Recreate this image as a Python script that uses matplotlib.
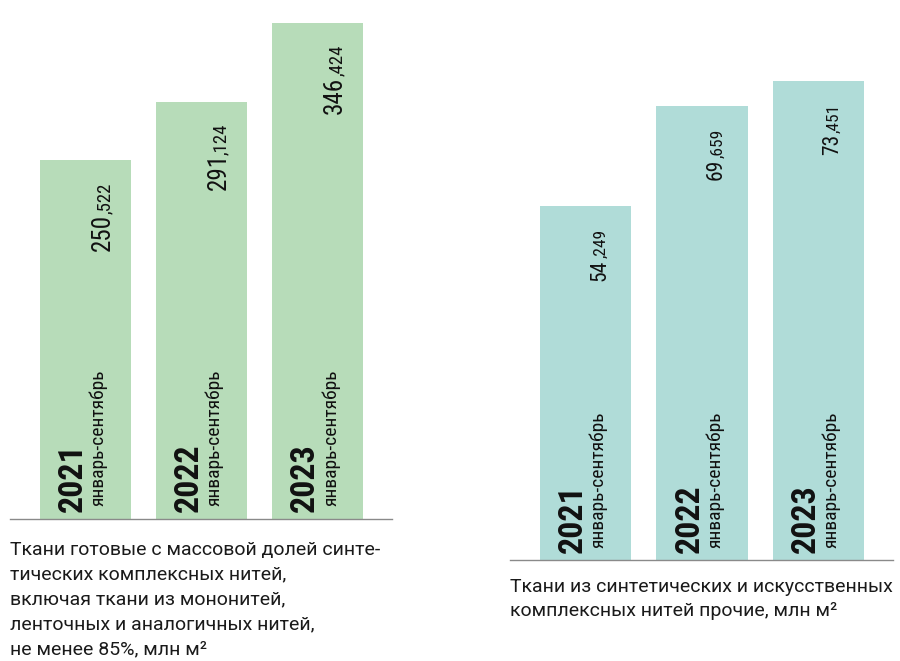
import matplotlib
matplotlib.use("Agg")
import matplotlib.pyplot as plt

narrow = ["Roboto Condensed", "DejaVu Sans"]
caption_font = ["Roboto", "DejaVu Sans"]

years = ["2021", "2022", "2023"]
period = "январь-сентябрь"
left_values = [250.522, 291.124, 346.424]
left_labels = [("250", ",522"), ("291", ",124"), ("346", ",424")]
right_values = [54.249, 69.659, 73.451]
right_labels = [("54", ",249"), ("69", ",659"), ("73", ",451")]
left_caption = ("Ткани готовые с массовой долей синте-\n"
                "тических комплексных нитей,\n"
                "включая ткани из мононитей,\n"
                "ленточных и аналогичных нитей,\n"
                "не менее 85%, млн м²")
right_caption = ("Ткани из синтетических и искусственных\n"
                 "комплексных нитей прочие, млн м²")

W, H = 900, 661
fig = plt.figure(figsize=(W / 100, H / 100), dpi=100)


def panel(x0, x1, base_y, vmax, color, values, labels, big, small, val_dx, val_dy,
          caption, cap_y, cap_ls):
    ax = fig.add_axes([x0 / W, (H - base_y) / H, (x1 - x0) / W, base_y / H])
    pos = range(len(values))
    ax.bar(pos, values, width=0.785, color=color)
    ax.set_ylim(0, vmax)
    ax.set_xlim(-0.65, 2.64)
    for s in ["top", "left", "right"]:
        ax.spines[s].set_visible(False)
    ax.spines["bottom"].set_color("#8a8a8a")
    ax.spines["bottom"].set_linewidth(1.0)
    ax.set_xticks([])
    ax.set_yticks([])
    ax.patch.set_alpha(0)

    for i, v in enumerate(values):
        whole, dec = labels[i]
        # decimal part ends near the bar top, whole part continues below it
        t = ax.annotate(dec, xy=(i, v), xytext=(val_dx, -val_dy), textcoords="offset points",
                        rotation=90, rotation_mode="anchor", ha="right", va="baseline",
                        fontsize=small, family=narrow, color="#111111")
        # tabular "1" leaves a wide gap before the comma
        nudge = 2.5 if whole.endswith("1") else 0
        ax.annotate(whole, xy=(i, 0), xycoords=("data", t), xytext=(val_dx, nudge - 0.5),
                    textcoords="offset points", rotation=90, rotation_mode="anchor",
                    ha="right", va="baseline", fontsize=big, family=narrow, color="#111111")
        ax.annotate(years[i], xy=(i, 0), xytext=(-2.4, 5.2), textcoords="offset points",
                    rotation=90, rotation_mode="anchor", ha="left", va="baseline",
                    fontsize=24.5, fontweight="bold", family=narrow, color="#111111")
        ax.annotate(period, xy=(i, 0), xytext=(13.2, 9), textcoords="offset points",
                    rotation=90, rotation_mode="anchor", ha="left", va="baseline",
                    fontsize=14, family=narrow, color="#111111")

    fig.text(x0 / W, 1 - cap_y / H, caption, ha="left", va="top", fontsize=14,
             family=caption_font, color="#1a1a1a", linespacing=cap_ls)


panel(10, 392, 519, 519 / 1.432, "#b7dcb9", left_values, left_labels, 18, 13.5, 17.6, 15.8,
      left_caption, 541, 1.48)
panel(510, 893, 560, 560 / 6.52, "#b0dcd8", right_values, right_labels, 15.5, 12.5, 14.4, 16.6,
      right_caption, 578, 1.40)

fig.savefig("out.png", dpi=100)
